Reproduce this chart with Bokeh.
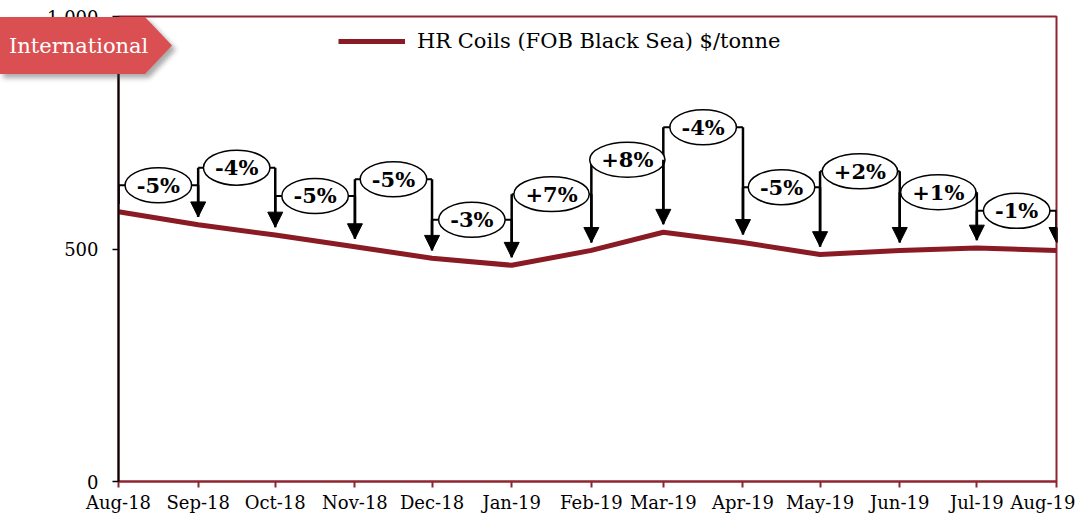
import pandas as pd
from bokeh.plotting import figure
from bokeh.layouts import column
from bokeh.models import (ColumnDataSource, Range1d, FixedTicker, NumeralTickFormatter,
                          Legend, LegendItem, Arrow, NormalHead, Div)
from bokeh.embed import file_html
from bokeh.resources import INLINE
from bokeh.core.properties import value

# ---------------- data ----------------
months = ["2018-08-01", "2018-09-01", "2018-10-01", "2018-11-01", "2018-12-01",
          "2019-01-01", "2019-02-01", "2019-03-01", "2019-04-01", "2019-05-01",
          "2019-06-01", "2019-07-01", "2019-08-01"]
tick_labels = ["Aug-18", "Sep-18", "Oct-18", "Nov-18", "Dec-18", "Jan-19", "Feb-19",
               "Mar-19", "Apr-19", "May-19", "Jun-19", "Jul-19", "Aug-19"]
prices = [580, 552, 530, 505, 480, 465, 497, 536, 514, 488, 497, 502, 497]
change_labels = ["-5%", "-4%", "-5%", "-5%", "-3%", "+7%", "+8%", "-4%", "-5%",
                 "+2%", "+1%", "-1%"]
label_levels = [637, 675, 614, 650, 563, 618, 692, 762, 633, 667, 622, 582]
y_ticks = [0, 500, 1000]
series_name = "HR Coils (FOB Black Sea) $/tonne"
badge_text = "International"

# ---------------- styles ----------------
RED = "#8A1B24"
FRAME = "#8E2530"
BADGE = "#DA5052"
SERIF = "DejaVu Serif"
GAP = 17  # arrow tip gap above the line, in data units
CHAR_EM = {"+": 0.84, "-": 0.42, "%": 1.0}

dates = pd.to_datetime(months)
ms = [float(d.timestamp() * 1000) for d in dates]

p = figure(width=1075, height=515, x_axis_type="datetime", output_backend="svg",
           toolbar_location=None, min_border_left=118, min_border_right=19,
           min_border_top=16, min_border_bottom=31)
p.x_range = Range1d(dates[0], dates[-1])
p.y_range = Range1d(0, 1000)
p.xgrid.visible = False
p.ygrid.visible = False
p.background_fill_color = "white"
p.border_fill_color = "white"
p.outline_line_color = FRAME
p.outline_line_width = 2

# axes
p.xaxis.ticker = FixedTicker(ticks=ms)
p.xaxis.major_label_overrides = {m: t for m, t in zip(ms, tick_labels)}
p.xaxis.axis_line_color = FRAME
p.xaxis.axis_line_width = 2
p.xaxis.major_tick_line_color = FRAME
p.xaxis.major_tick_line_width = 2
p.xaxis.major_tick_out = 6
p.xaxis.major_tick_in = 0
p.xaxis.minor_tick_line_color = None
p.xaxis.major_label_standoff = 4
p.xaxis.major_label_text_font = SERIF
p.xaxis.major_label_text_font_size = "18px"
p.xaxis.major_label_text_color = "black"

p.yaxis.ticker = FixedTicker(ticks=y_ticks)
p.yaxis.formatter = NumeralTickFormatter(format="0,0")
p.yaxis.axis_line_color = "black"
p.yaxis.axis_line_width = 2
p.yaxis.major_tick_line_color = "black"
p.yaxis.major_tick_line_width = 1.5
p.yaxis.major_tick_out = 6
p.yaxis.major_tick_in = 0
p.yaxis.minor_tick_line_color = None
p.yaxis.major_label_standoff = 14
p.yaxis.major_label_text_font = SERIF
p.yaxis.major_label_text_font_size = "18px"
p.yaxis.major_label_text_color = "black"

# main line
src = ColumnDataSource(dict(date=dates, price=prices))
line_r = p.line("date", "price", source=src, line_width=5, line_color=RED)

# change annotations
mids = [dates[i] + (dates[i + 1] - dates[i]) / 2 for i in range(len(change_labels))]
tips = [v + GAP for v in prices]
widths = [22 + 21 * sum(CHAR_EM.get(c, 0.70) for c in s) for s in change_labels]
ann = ColumnDataSource(dict(
    x0=dates[:-1], x1=dates[1:], mid=mids, lvl=label_levels,
    tip0=tips[:-1], tip1=tips[1:], lab=change_labels, w=widths,
))
p.segment(x0="x0", y0="lvl", x1="x1", y1="lvl", source=ann, line_color="black", line_width=2)
p.segment(x0="x0", y0="lvl", x1="x0", y1="tip0", source=ann, line_color="black", line_width=2.5)
p.add_layout(Arrow(end=NormalHead(size=15, fill_color="black", line_color="black"),
                   x_start="x1", y_start="lvl", x_end="x1", y_end="tip1",
                   source=ann, line_color="black", line_width=2.5))
p.ellipse(x="mid", y="lvl", width="w", height=35, width_units="screen", height_units="screen",
          source=ann, fill_color="white", line_color="black", line_width=1.5)
p.text(x="mid", y="lvl", text="lab", source=ann, text_align="center", text_baseline="middle",
       text_font=value(SERIF), text_font_style="bold", text_font_size="21px", text_color="black")

# legend
legend = Legend(items=[LegendItem(label=series_name, renderers=[line_r])],
                location=(220, 428), orientation="horizontal", border_line_color=None,
                background_fill_alpha=0, padding=0, margin=0, glyph_width=67, glyph_height=20,
                label_standoff=12, label_text_font=SERIF, label_text_font_size="21px",
                label_text_color="black")
p.add_layout(legend)

# "International" badge, drawn as an overlay on top of the figure
badge_svg = (
    '<svg xmlns="http://www.w3.org/2000/svg" width="185" height="85">'
    '<defs><filter id="sh" x="-10%" y="-10%" width="130%" height="140%">'
    '<feGaussianBlur stdDeviation="2.5"/></filter></defs>'
    '<polygon points="3,21 149,21 176,49.5 149,78 3,78" fill="#444" opacity="0.45" filter="url(#sh)"/>'
    f'<polygon points="0,17 145,17 172,45.5 145,74 0,74" fill="{BADGE}"/>'
    f'<text x="9" y="46" dominant-baseline="central" '
    f'style="fill: white; font-family: \'{SERIF}\', serif; font-size: 21px; font-weight: normal;">'
    f'{badge_text}</text>'
    '</svg>'
)
badge = Div(text=badge_svg, width=185, height=85, margin=0,
            styles={"position": "absolute", "left": "0px", "top": "0px", "z-index": "10"})

layout = column(p, badge, margin=0)
open("out.html", "w").write(file_html(layout, INLINE))
